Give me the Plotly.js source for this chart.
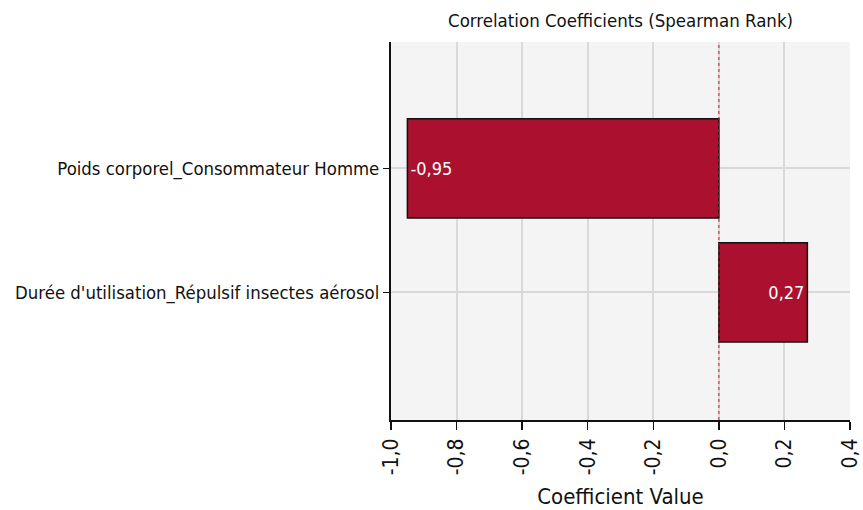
<!DOCTYPE html>
<html>
<head>
<meta charset="utf-8">
<script src="https://cdn.plot.ly/plotly-3.0.1.min.js"></script>
<style>html,body{margin:0;padding:0;background:#fff;}#chart{width:863px;height:510px;}</style>
</head>
<body>
<div id="chart"></div>
<script>
var categories = ["Poids corporel_Consommateur Homme", "Durée d'utilisation_Répulsif insectes aérosol"];
var coefficients = [-0.95, 0.27];
var tickValues = [-1.0, -0.8, -0.6, -0.4, -0.2, 0.0, 0.2, 0.4];
var tickLabels = ["-1,0", "-0,8", "-0,6", "-0,4", "-0,2", "0,0", "0,2", "0,4"];

var font = "DejaVu Sans Condensed, Liberation Sans Narrow, sans-serif";

var barLabels = coefficients.map(function(v){ return v.toFixed(2).replace(".", ","); });

var trace = {
  type: "bar",
  orientation: "h",
  y: categories.map(function(c, i){ return i; }),
  x: coefficients,
  width: 0.8,
  marker: {color: "#ab102f", line: {color: "#111", width: 1.5}},
  text: barLabels,
  texttemplate: "%{text}",
  textposition: "inside",
  insidetextanchor: "end",
  textfont: {color: "#fff", size: 18, family: font},
  hoverinfo: "none"
};

var layout = {
  width: 863, height: 510,
  margin: {l: 391, r: 13, t: 42, b: 90},
  paper_bgcolor: "#fff",
  plot_bgcolor: "#f4f4f4",
  showlegend: false,
  font: {family: font, color: "#111"},
  xaxis: {
    range: [-1.0, 0.4],
    tickvals: tickValues,
    ticktext: tickLabels,
    tickangle: -90,
    tickfont: {size: 21, family: font, color: "#111"},
    ticks: "outside", ticklen: 8, tickcolor: "#111", tickwidth: 1.5,
    showline: true, linecolor: "#111", linewidth: 2,
    showgrid: true, gridcolor: "#d9d9d9", gridwidth: 2,
    zeroline: false,
    title: {text: "Coefficient Value", font: {size: 22, family: font, color: "#111"}, standoff: 14}
  },
  yaxis: {
    range: [2.03, -1.02],
    tickvals: categories.map(function(c, i){ return i; }),
    ticktext: categories,
    tickfont: {size: 18.4, family: font, color: "#111"},
    ticks: "outside", ticklen: 6, tickcolor: "#111", tickwidth: 1.5,
    showline: true, linecolor: "#111", linewidth: 2,
    showgrid: true, gridcolor: "#d9d9d9", gridwidth: 2,
    zeroline: false
  },
  shapes: [{
    type: "line", xref: "x", yref: "paper", x0: 0, x1: 0, y0: 0, y1: 1,
    line: {color: "#d0102a", width: 1, dash: "dot"}, layer: "above"
  }],
  annotations: [{
    text: "Correlation Coefficients (Spearman Rank)",
    xref: "paper", yref: "paper", x: 0.5, y: 1, yshift: 9,
    xanchor: "center", yanchor: "bottom", showarrow: false,
    font: {size: 18.5, family: font, color: "#111"}
  }]
};

Plotly.newPlot("chart", [trace], layout, {staticPlot: true, displayModeBar: false});
</script>
</body>
</html>
